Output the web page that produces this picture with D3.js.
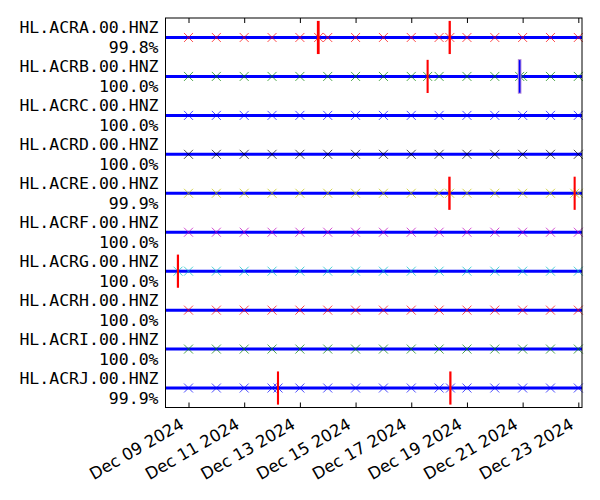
<!DOCTYPE html>
<html>
<head>
<meta charset="utf-8">
<script src="https://cdn.jsdelivr.net/npm/d3@7"></script>
<style>
  body { margin: 0; background: #fff; }
  svg { display: block; }
</style>
</head>
<body>
<div id="chart"></div>
<script>
// station ids, availability percentage per station
var stations = ["HL.ACRA.00.HNZ", "HL.ACRB.00.HNZ", "HL.ACRC.00.HNZ", "HL.ACRD.00.HNZ", "HL.ACRE.00.HNZ",
                "HL.ACRF.00.HNZ", "HL.ACRG.00.HNZ", "HL.ACRH.00.HNZ", "HL.ACRI.00.HNZ", "HL.ACRJ.00.HNZ"];
var percents = [99.8, 100.0, 100.0, 100.0, 99.9, 100.0, 100.0, 100.0, 100.0, 99.9];
var markerColors = ["#ff0000", "#008000", "#0000ff", "#000000", "#bfbf00", "#bf00bf", "#00bfbf"];

// time range of the data
var dataStart = "2024-12-08T04:10:00Z";
var dataEnd = "2024-12-23T03:10:00Z";

// daily files start at midnight
var fileDays = ["2024-12-09", "2024-12-10", "2024-12-11", "2024-12-12", "2024-12-13", "2024-12-14",
                "2024-12-15", "2024-12-16", "2024-12-17", "2024-12-18", "2024-12-19", "2024-12-20",
                "2024-12-21", "2024-12-22", "2024-12-23"];

// gaps: station, start, minutes
var gaps = [
    {sta: "HL.ACRA.00.HNZ", start: "2024-12-13T15:30:00Z", min: 40},
    {sta: "HL.ACRA.00.HNZ", start: "2024-12-18T09:02:00Z", min: 14},
    {sta: "HL.ACRB.00.HNZ", start: "2024-12-17T14:04:00Z", min: 4},
    {sta: "HL.ACRE.00.HNZ", start: "2024-12-18T08:45:00Z", min: 20},
    {sta: "HL.ACRE.00.HNZ", start: "2024-12-22T20:48:00Z", min: 4},
    {sta: "HL.ACRG.00.HNZ", start: "2024-12-08T14:48:00Z", min: 10},
    {sta: "HL.ACRJ.00.HNZ", start: "2024-12-12T05:05:00Z", min: 5},
    {sta: "HL.ACRJ.00.HNZ", start: "2024-12-18T09:37:00Z", min: 12}
];
// overlaps: station, start, minutes
var overlaps = [
    {sta: "HL.ACRB.00.HNZ", start: "2024-12-20T21:23:00Z", min: 4}
];

var tickDays = ["2024-12-09", "2024-12-11", "2024-12-13", "2024-12-15", "2024-12-17",
                "2024-12-19", "2024-12-21", "2024-12-23"];

var margin = { top: 18, right: 18, bottom: 92.5, left: 165.5 },
    width = 600 - margin.left - margin.right,
    height = 500 - margin.top - margin.bottom;

var svg = d3.select("#chart").append("svg")
    .attr("width", 600)
    .attr("height", 500);

var g = svg.append("g")
    .attr("transform", "translate(" + margin.left + "," + margin.top + ")");

var x = d3.scaleUtc()
    .domain([new Date(dataStart), new Date(dataEnd)])
    .range([0, width]);

var y = d3.scaleBand()
    .domain(stations)
    .range([0, height]);

function yc(s) { return y(s) + y.bandwidth() / 2; }
function endOf(d) { return new Date(new Date(d.start).getTime() + d.min * 60000); }

var half = y.bandwidth() * 0.4;

// data lines
g.selectAll(".data")
    .data(stations)
    .enter().append("line")
    .attr("x1", x(new Date(dataStart)))
    .attr("x2", x(new Date(dataEnd)))
    .attr("y1", yc)
    .attr("y2", yc)
    .attr("stroke", "#0000ff")
    .attr("stroke-width", 3);

// file start markers
var markers = [];
stations.forEach(function(s, i) {
    fileDays.forEach(function(d) {
        markers.push({sta: s, i: i, t: new Date(d + "T00:00:00Z")});
    });
});
gaps.concat(overlaps).forEach(function(d) {
    markers.push({sta: d.sta, i: stations.indexOf(d.sta), t: endOf(d)});
});

var ms = 4.5;
g.selectAll(".mark")
    .data(markers)
    .enter().append("path")
    .attr("class", "mark")
    .attr("d", function(d) {
        var cx = x(d.t), cy = yc(d.sta);
        return "M" + (cx - ms) + "," + (cy - ms) + "L" + (cx + ms) + "," + (cy + ms) +
               "M" + (cx - ms) + "," + (cy + ms) + "L" + (cx + ms) + "," + (cy - ms);
    })
    .attr("stroke", function(d) { return markerColors[d.i % markerColors.length]; })
    .attr("stroke-opacity", 0.7)
    .attr("stroke-width", 1)
    .attr("fill", "none");

// gaps in red
g.selectAll(".gap")
    .data(gaps)
    .enter().append("rect")
    .attr("x", function(d) { return x(new Date(d.start)); })
    .attr("width", function(d) { return x(endOf(d)) - x(new Date(d.start)); })
    .attr("y", function(d) { return yc(d.sta) - half; })
    .attr("height", half * 2)
    .attr("fill", "#ff0000")
    .attr("stroke", "#ff0000")
    .attr("stroke-width", 2);

// overlaps in blue, with a faint purple rim
g.selectAll(".overlapRim")
    .data(overlaps)
    .enter().append("rect")
    .attr("x", function(d) { return x(new Date(d.start)); })
    .attr("width", function(d) { return x(endOf(d)) - x(new Date(d.start)); })
    .attr("y", function(d) { return yc(d.sta) - half; })
    .attr("height", half * 2)
    .attr("fill", "none")
    .attr("stroke", "#b58ad8")
    .attr("stroke-width", 3.5);
g.selectAll(".overlap")
    .data(overlaps)
    .enter().append("rect")
    .attr("x", function(d) { return x(new Date(d.start)); })
    .attr("width", function(d) { return x(endOf(d)) - x(new Date(d.start)); })
    .attr("y", function(d) { return yc(d.sta) - half; })
    .attr("height", half * 2)
    .attr("fill", "#0000ff")
    .attr("stroke", "#0000ff")
    .attr("stroke-width", 1.5);

// axes
var ticks = tickDays.map(function(d) { return new Date(d + "T00:00:00Z"); });

var xAxis = d3.axisBottom(x)
    .tickValues(ticks)
    .tickSize(-5)
    .tickFormat(d3.utcFormat("%b %d %Y"));

var xg = g.append("g")
    .attr("transform", "translate(0," + height + ")")
    .call(xAxis);
xg.select(".domain").remove();
xg.selectAll("line").attr("stroke", "#000");
xg.selectAll("text")
    .attr("font-family", "'DejaVu Sans', sans-serif")
    .attr("font-size", 16.5)
    .attr("fill", "#000")
    .attr("text-anchor", "end")
    .attr("dy", null)
    .attr("y", 0)
    .attr("transform", "translate(-4,20) rotate(-30)");

var topAxis = d3.axisTop(x)
    .tickValues(ticks)
    .tickSize(-5)
    .tickFormat("");
var tg = g.append("g").call(topAxis);
tg.select(".domain").remove();
tg.selectAll("line").attr("stroke", "#000");

// station labels
var lab = g.selectAll(".lab")
    .data(stations)
    .enter().append("text")
    .attr("x", -7)
    .attr("text-anchor", "end")
    .attr("font-family", "'DejaVu Sans Mono', monospace")
    .attr("font-size", 16.5)
    .attr("fill", "#000");
lab.append("tspan")
    .attr("x", -7)
    .attr("y", function(d) { return yc(d) - 4.5; })
    .text(function(d) { return d; });
lab.append("tspan")
    .attr("x", -7)
    .attr("y", function(d) { return yc(d) + 15.5; })
    .text(function(d, i) { return percents[i].toFixed(1) + "%"; });

// frame
g.append("rect")
    .attr("width", width)
    .attr("height", height)
    .attr("fill", "none")
    .attr("stroke", "#000")
    .attr("stroke-width", 1);
</script>
</body>
</html>
